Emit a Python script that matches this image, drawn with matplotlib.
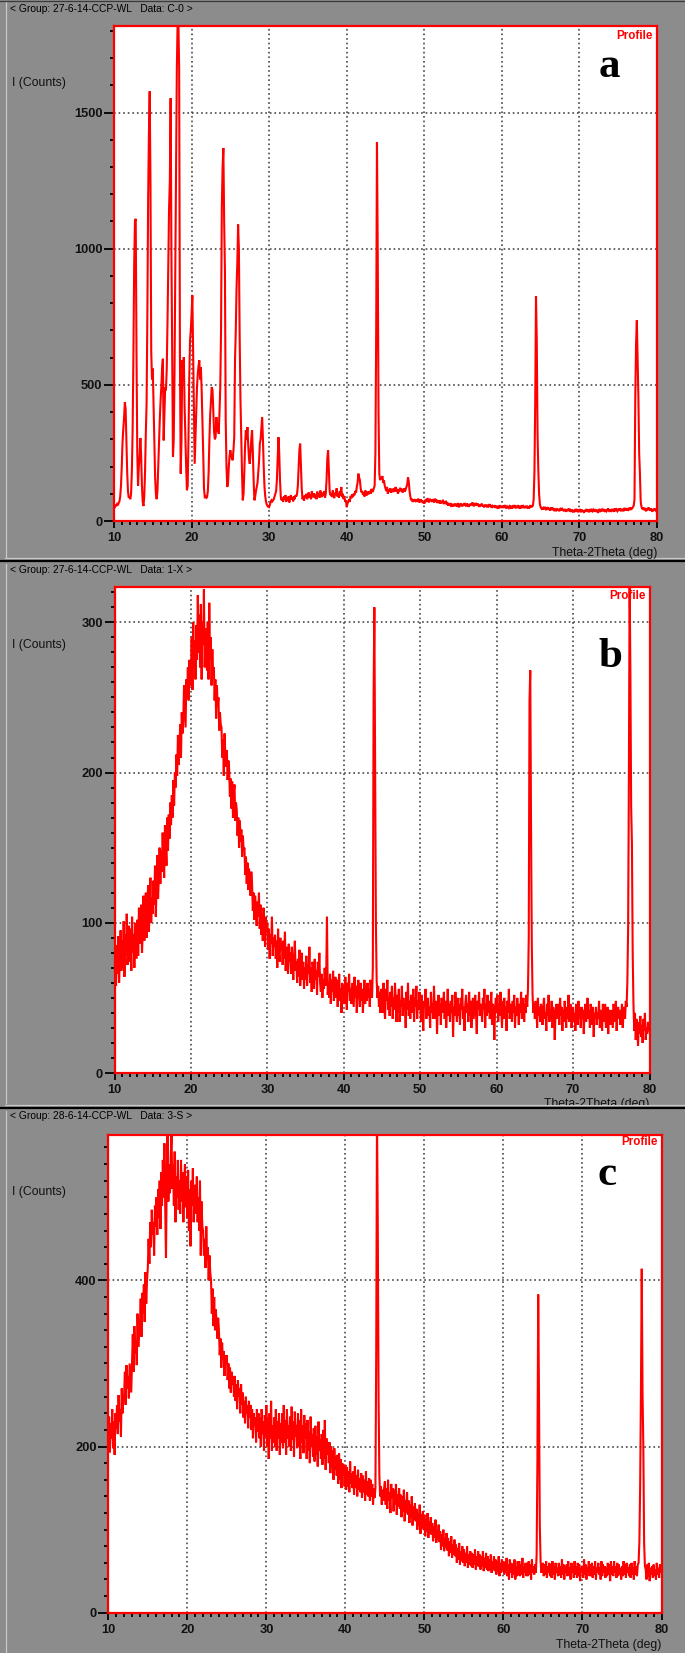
import numpy as np
import matplotlib
matplotlib.use("Agg")
import matplotlib.pyplot as plt
from matplotlib.ticker import MultipleLocator, FixedLocator
from matplotlib.lines import Line2D
from matplotlib.transforms import Bbox
from matplotlib.font_manager import FontProperties

# ---------------- data (scan 10-80 deg, step 0.1 deg) ----------------
theta_start = 10.0
theta_step = 0.1

counts_a = [
    52, 48, 60, 55, 62, 58, 66, 72, 90, 130,
    200, 290, 340, 380, 437, 410, 300, 180, 110, 85,
    90, 80, 100, 180, 330, 600, 940, 1100, 1110, 620,
    250, 130, 200, 240, 305, 240, 130, 70, 55, 90,
    180, 320, 430, 750, 1180, 1420, 1578, 1250, 620, 520,
    560, 420, 260, 160, 100, 80, 110, 200, 300, 370,
    440, 492, 560, 596, 296, 400, 492, 480, 560, 737,
    950, 1150, 1251, 1553, 1000, 614, 235, 300, 541, 900,
    1214, 1661, 1830, 1830, 1661, 602, 174, 300, 590, 560,
    602, 420, 308, 200, 113, 130, 300, 520, 663, 700,
    760, 829, 614, 400, 210, 300, 400, 492, 540, 570,
    590, 520, 565, 480, 370, 250, 120, 88, 90, 85,
    88, 110, 180, 300, 390, 440, 492, 480, 400, 330,
    300, 308, 382, 330, 357, 320, 400, 492, 700, 1153,
    1300, 1370, 1100, 920, 370, 200, 125, 140, 200, 240,
    260, 240, 230, 223, 260, 308, 590, 700, 859, 950,
    1089, 1000, 675, 450, 308, 180, 76, 100, 180, 280,
    333, 300, 345, 280, 230, 210, 250, 300, 333, 250,
    150, 76, 90, 110, 125, 140, 180, 220, 284, 300,
    340, 382, 300, 200, 125, 90, 70, 60, 55, 52,
    51, 60, 70, 76, 72, 76, 80, 90, 100, 110,
    150, 230, 308, 250, 150, 90, 76, 85, 70, 90,
    80, 95, 70, 85, 75, 90, 68, 82, 95, 78,
    88, 72, 90, 80, 95, 90, 100, 130, 200, 260,
    284, 200, 120, 80, 90, 75, 95, 85, 100, 80,
    90, 105, 85, 98, 80, 110, 92, 88, 102, 84,
    96, 80, 108, 90, 100, 86, 112, 94, 88, 104,
    92, 110, 86, 100, 150, 230, 260, 180, 110, 95,
    100, 88, 112, 92, 84, 104, 96, 120, 90, 100,
    86, 110, 94, 125, 88, 100, 80, 92, 70, 76,
    51, 64, 72, 80, 70, 92, 84, 98, 88, 100,
    95, 110, 104, 125, 140, 174, 160, 150, 120, 105,
    110, 96, 104, 90, 112, 100, 94, 108, 98, 104,
    110, 100, 118, 106, 112, 120, 130, 250, 700, 1392,
    982, 400, 174, 150, 160, 155, 165, 140, 150, 130,
    120, 110, 125, 100, 115, 108, 120, 104, 112, 118,
    106, 120, 110, 125, 108, 118, 100, 115, 112, 122,
    110, 118, 104, 112, 120, 108, 116, 125, 135, 160,
    145, 110, 90, 76, 82, 70, 78, 72, 80, 74,
    78, 70, 82, 74, 68, 80, 72, 76, 66, 74,
    64, 72, 80, 70, 84, 76, 68, 82, 74, 78,
    70, 80, 76, 68, 82, 72, 78, 66, 74, 70,
    76, 64, 72, 68, 78, 62, 70, 66, 74, 60,
    68, 56, 64, 58, 66, 52, 62, 58, 54, 64,
    56, 62, 52, 66, 58, 50, 64, 56, 60, 54,
    62, 56, 66, 58, 54, 64, 60, 52, 62, 56,
    64, 58, 68, 60, 54, 66, 58, 62, 56, 64,
    58, 52, 60, 56, 64, 54, 58, 50, 60, 56,
    54, 60, 50, 56, 62, 52, 58, 48, 56, 54,
    52, 58, 48, 56, 50, 54, 46, 58, 52, 50,
    51, 56, 48, 54, 58, 50, 46, 54, 52, 48,
    54, 50, 56, 46, 52, 58, 48, 54, 50, 56,
    48, 54, 50, 56, 46, 52, 58, 48, 54, 50,
    52, 48, 56, 50, 54, 46, 52, 58, 50, 54,
    56, 80, 180, 431, 825, 663, 320, 186, 100, 62,
    51, 46, 50, 42, 48, 44, 52, 40, 46, 48,
    42, 48, 38, 46, 44, 50, 40, 46, 36, 44,
    40, 46, 38, 44, 36, 42, 48, 38, 44, 40,
    36, 44, 40, 34, 42, 38, 46, 36, 40, 34,
    42, 36, 40, 32, 38, 44, 34, 40, 36, 42,
    33, 40, 36, 42, 34, 38, 30, 40, 36, 44,
    36, 42, 32, 38, 44, 34, 40, 36, 42, 38,
    40, 34, 42, 36, 30, 40, 44, 36, 38, 42,
    36, 44, 38, 34, 42, 36, 40, 46, 38, 34,
    42, 38, 44, 36, 40, 34, 46, 38, 42, 36,
    40, 46, 38, 42, 36, 44, 40, 36, 48, 42,
    44, 38, 46, 42, 48, 40, 50, 44, 46, 52,
    56, 80, 455, 650, 737, 600, 455, 250, 174, 70,
    52, 44, 50, 40, 48, 42, 36, 46, 40, 50,
    44, 38, 46, 40, 34, 44, 38, 46, 40, 36,
    42,
]

counts_b = [
    62, 80, 58, 85, 66, 91, 60, 76, 95, 68,
    88, 70, 101, 64, 92, 78, 106, 72, 84, 98,
    74, 96, 68, 104, 80, 92, 70, 100, 88, 76,
    102, 78, 110, 86, 97, 112, 80, 95, 118, 88,
    96, 120, 90, 112, 125, 94, 108, 130, 100, 117,
    106, 128, 112, 138, 104, 122, 145, 116, 130, 150,
    126, 148, 134, 160, 142, 130, 165, 150, 138, 170,
    148, 172, 156, 180, 165, 185, 170, 195, 178, 200,
    190, 212, 198, 225, 205, 218, 232, 210, 240, 226,
    236, 258, 244, 230, 262, 250, 270, 248, 275, 258,
    262, 290, 255, 300, 270, 288, 262, 298, 275, 318,
    280, 305, 270, 312, 262, 300, 285, 322, 270, 296,
    292, 268, 300, 262, 313, 275, 290, 258, 282, 265,
    270, 248, 262, 236, 258, 244, 250, 228, 240, 232,
    230, 210, 222, 198, 226, 212, 204, 215, 195, 208,
    202, 184, 196, 176, 194, 170, 186, 192, 168, 180,
    175, 158, 170, 150, 168, 154, 162, 144, 158, 148,
    150, 132, 144, 126, 140, 122, 136, 128, 118, 134,
    126, 108, 120, 102, 118, 110, 98, 114, 104, 120,
    96, 112, 92, 106, 88, 110, 100, 84, 104, 94,
    100, 82, 96, 76, 92, 86, 104, 78, 90, 84,
    92, 76, 88, 70, 96, 80, 74, 90, 82, 86,
    72, 88, 76, 94, 68, 84, 78, 66, 86, 74,
    80, 66, 84, 70, 62, 78, 88, 68, 74, 60,
    76, 64, 82, 58, 72, 80, 62, 74, 56, 70,
    62, 78, 58, 72, 66, 84, 60, 70, 54, 74,
    70, 56, 76, 62, 68, 52, 74, 64, 80, 60,
    54, 66, 50, 62, 56, 70, 58, 64, 104, 52,
    60, 50, 66, 46, 62, 54, 68, 48, 58, 64,
    50, 62, 44, 58, 66, 48, 56, 40, 60, 52,
    58, 46, 64, 50, 42, 60, 54, 66, 48, 56,
    46, 60, 52, 44, 64, 50, 58, 40, 56, 62,
    54, 44, 60, 48, 56, 40, 52, 62, 46, 58,
    48, 60, 50, 56, 44, 62, 54, 50, 70, 252,
    310, 206, 100, 62, 50, 58, 44, 54, 40, 56,
    52, 40, 60, 44, 36, 56, 48, 62, 42, 50,
    38, 54, 44, 58, 36, 50, 42, 60, 46, 34,
    52, 40, 56, 34, 48, 44, 58, 38, 50, 42,
    46, 30, 54, 42, 60, 38, 48, 36, 52, 44,
    40, 56, 34, 50, 44, 58, 36, 48, 42, 54,
    46, 34, 52, 40, 28, 48, 44, 56, 36, 42,
    50, 38, 44, 30, 54, 40, 46, 36, 58, 42,
    36, 48, 26, 44, 52, 38, 46, 32, 50, 40,
    44, 54, 36, 48, 30, 42, 56, 38, 46, 34,
    48, 40, 52, 24, 44, 38, 54, 42, 34, 50,
    38, 46, 32, 50, 42, 56, 36, 44, 28, 46,
    52, 40, 46, 34, 54, 38, 48, 30, 44, 50,
    36, 44, 52, 40, 26, 48, 42, 54, 38, 46,
    44, 34, 50, 42, 56, 30, 46, 38, 52, 40,
    48, 36, 42, 54, 32, 46, 40, 22, 44, 50,
    40, 52, 34, 46, 38, 54, 42, 30, 48, 36,
    50, 38, 44, 28, 48, 40, 56, 36, 42, 46,
    34, 48, 40, 52, 30, 44, 38, 50, 42, 32,
    46, 40, 54, 36, 42, 50, 34, 46, 40, 52,
    44, 56, 90, 248, 268, 164, 85, 52, 40, 46,
    36, 48, 42, 30, 50, 38, 44, 34, 46, 40,
    32, 44, 50, 36, 40, 28, 46, 38, 52, 34,
    42, 36, 48, 30, 44, 40, 22, 38, 46, 42,
    36, 46, 32, 50, 38, 44, 28, 42, 34, 48,
    40, 30, 44, 36, 52, 34, 40, 46, 30, 38,
    44, 34, 40, 28, 46, 38, 32, 48, 36, 42,
    30, 44, 36, 42, 26, 40, 46, 34, 38, 50,
    36, 42, 30, 46, 38, 32, 44, 24, 40, 36,
    44, 32, 40, 36, 48, 30, 42, 38, 28, 46,
    34, 40, 46, 30, 36, 44, 26, 42, 38, 32,
    42, 36, 30, 46, 38, 34, 48, 28, 40, 44,
    36, 42, 32, 38, 46, 30, 40, 44, 36, 48,
    44, 60, 95, 193, 330, 266, 177, 153, 80, 46,
    28, 40, 22, 36, 30, 18, 34, 26, 38, 24,
    32, 20, 36, 28, 40, 22, 30, 26, 34, 30,
    28,
]

counts_c = [
    205, 236, 193, 228, 210, 245, 198, 230, 190, 240,
    222, 250, 215, 262, 230, 245, 212, 270, 240, 258,
    262, 290, 250, 298, 270, 285, 258, 300, 282, 265,
    300, 335, 290, 345, 312, 328, 298, 360, 320, 340,
    345, 378, 332, 385, 360, 395, 350, 410, 372, 400,
    415, 450, 420, 470, 440, 485, 455, 470, 430, 490,
    465, 500, 455, 510, 475, 520, 462, 530, 490, 545,
    500, 565, 488, 427, 530, 575, 495, 540, 505, 550,
    575, 510, 540, 490, 555, 470, 525, 500, 545, 485,
    520, 480, 545, 495, 530, 470, 510, 540, 488, 525,
    475, 533, 460, 510, 441, 520, 490, 535, 470, 505,
    515, 480, 525, 470, 500, 460, 520, 430, 495, 465,
    460, 430, 450, 415, 465, 425, 440, 400, 430, 410,
    400, 360, 390, 345, 380, 340, 365, 350, 330, 355,
    340, 310, 330, 295, 325, 305, 315, 285, 310, 300,
    310, 280, 300, 270, 295, 265, 290, 275, 285, 260,
    285, 255, 275, 245, 280, 260, 270, 240, 275, 250,
    265, 235, 255, 228, 260, 240, 250, 222, 255, 235,
    250, 220, 245, 210, 240, 225, 235, 205, 245, 218,
    240, 210, 235, 200, 245, 215, 230, 195, 238, 212,
    250, 200, 235, 185, 240, 210, 255, 195, 225, 205,
    235, 200, 245, 195, 230, 210, 240, 190, 228, 205,
    240, 198, 250, 205, 232, 190, 245, 210, 225, 200,
    236, 195, 248, 208, 230, 188, 242, 212, 226, 198,
    240, 200, 232, 185, 245, 205, 225, 192, 238, 210,
    228, 185, 232, 195, 218, 180, 236, 200, 215, 188,
    222, 182, 225, 190, 212, 176, 230, 195, 208, 185,
    215, 178, 220, 185, 232, 172, 210, 190, 205, 180,
    205, 168, 200, 175, 195, 160, 198, 172, 188, 165,
    190, 155, 192, 160, 185, 150, 180, 165, 178, 152,
    178, 148, 175, 152, 170, 145, 182, 155, 168, 150,
    170, 142, 176, 150, 165, 140, 172, 148, 162, 145,
    168, 138, 165, 145, 160, 135, 170, 142, 158, 140,
    162, 135, 160, 140, 155, 130, 150, 138, 150, 309,
    600, 465, 257, 165, 140, 152, 130, 148, 135, 150,
    158, 130, 150, 125, 160, 135, 145, 120, 155, 138,
    150, 122, 148, 130, 155, 118, 142, 128, 150, 125,
    142, 115, 140, 122, 148, 110, 135, 120, 145, 118,
    135, 108, 130, 115, 140, 105, 128, 112, 132, 110,
    125, 100, 120, 105, 130, 95, 118, 102, 122, 100,
    118, 92, 112, 98, 120, 90, 110, 96, 115, 94,
    108, 86, 104, 90, 112, 84, 100, 88, 106, 85,
    98, 76, 94, 80, 100, 74, 90, 78, 96, 75,
    90, 68, 86, 72, 92, 66, 82, 70, 88, 68,
    82, 60, 78, 64, 84, 58, 74, 62, 80, 60,
    76, 56, 72, 60, 80, 54, 70, 58, 74, 56,
    72, 54, 70, 58, 76, 52, 68, 56, 74, 55,
    70, 52, 68, 56, 74, 50, 66, 54, 72, 52,
    68, 50, 64, 52, 70, 48, 62, 52, 68, 50,
    64, 46, 62, 50, 68, 44, 60, 48, 64, 50,
    62, 46, 60, 48, 66, 44, 58, 40, 64, 48,
    60, 42, 58, 46, 64, 40, 56, 44, 62, 45,
    62, 44, 58, 46, 66, 42, 56, 48, 60, 44,
    60, 44, 62, 46, 58, 40, 64, 48, 56, 46,
    58, 48, 70, 185, 383, 260, 105, 62, 48, 56,
    60, 44, 58, 46, 62, 42, 56, 48, 60, 44,
    58, 42, 62, 46, 56, 40, 60, 48, 54, 44,
    60, 45, 56, 42, 64, 46, 58, 40, 55, 48,
    58, 44, 62, 46, 54, 40, 60, 48, 56, 42,
    62, 46, 56, 42, 60, 44, 58, 38, 54, 48,
    56, 42, 64, 46, 58, 40, 55, 48, 62, 44,
    58, 44, 60, 42, 56, 46, 62, 40, 54, 48,
    60, 46, 55, 40, 62, 44, 58, 48, 56, 42,
    54, 44, 60, 46, 58, 38, 62, 46, 56, 44,
    62, 48, 56, 42, 60, 44, 58, 46, 54, 40,
    56, 44, 62, 46, 58, 42, 60, 48, 55, 44,
    58, 42, 60, 46, 54, 40, 62, 46, 56, 44,
    58, 60, 85, 153, 269, 414, 265, 201, 85, 56,
    52, 40, 58, 44, 60, 38, 54, 46, 56, 42,
    58, 44, 52, 40, 60, 46, 54, 42, 58, 48,
    50,
]

x_ticks = [10, 20, 30, 40, 50, 60, 70, 80]
y_ticks_a = [0, 500, 1000, 1500]
y_ticks_b = [0, 100, 200, 300]
y_ticks_c = [0, 200, 400]
group_labels = [
    "< Group: 27-6-14-CCP-WL   Data: C-0 >",
    "< Group: 27-6-14-CCP-WL   Data: 1-X >",
    "< Group: 28-6-14-CCP-WL   Data: 3-S >",
]
panel_letters = ["a", "b", "c"]

# ---------------- layout (pixels) ----------------
W, H = 685, 1653
fig = plt.figure(figsize=(W / 100, H / 100), dpi=100)
GRAY = "#8c8c8c"
LIGHT = "#c9c9c9"
RED = "#ff0000"
fig.patch.set_facecolor(GRAY)

NARROW = ["Liberation Sans Narrow", "Liberation Sans", "DejaVu Sans"]
SERIF = ["Liberation Serif", "DejaVu Serif"]


def fx(x):
    return x / W


def fy(y):
    return 1 - y / H


def hline(y, x0, x1, color, lw):
    fig.add_artist(Line2D([fx(x0), fx(x1)], [fy(y), fy(y)],
                          transform=fig.transFigure, color=color, lw=lw))


def vline(x, y0, y1, color, lw):
    fig.add_artist(Line2D([fx(x), fx(x)], [fy(y0), fy(y1)],
                          transform=fig.transFigure, color=color, lw=lw))


panels = [
    dict(data=counts_a, yt=y_ticks_a, box=(114, 26, 657, 521), ymax=1818,
         yminor=100, gy=8.5, ly=83, prof_y=36, let_xy=(609, 77),
         xl_y=553, top=0, bottom=558, lw=1.5),
    dict(data=counts_b, yt=y_ticks_b, box=(114.5, 587, 649.5, 1073), ymax=323.5,
         yminor=10, gy=570, ly=645, prof_y=596, let_xy=(610, 667),
         xl_y=1104, top=562, bottom=1104, lw=1.5),
    dict(data=counts_c, yt=y_ticks_c, box=(108.3, 1135, 661.5, 1612.7), ymax=575,
         yminor=20, gy=1116, ly=1192, prof_y=1142, let_xy=(607.5, 1185),
         xl_y=1645, top=1109, bottom=1653, lw=1.5),
]

tick_font = FontProperties(family=NARROW, weight="bold", size=9.3)

for i, p in enumerate(panels):
    l, t, r, b = p["box"]
    ax = fig.add_axes([fx(l), fy(b), fx(r) - fx(l), (b - t) / H])
    ax.set_facecolor("white")
    y = np.asarray(p["data"], dtype=float)
    x = theta_start + theta_step * np.arange(len(y))
    ax.plot(x, y, color=RED, lw=p["lw"], zorder=3, solid_joinstyle="miter")
    ax.set_xlim(10, 80)
    ax.set_ylim(0, p["ymax"])
    ax.xaxis.set_major_locator(FixedLocator(x_ticks))
    ax.xaxis.set_minor_locator(MultipleLocator(1))
    ax.yaxis.set_major_locator(FixedLocator(p["yt"]))
    ax.yaxis.set_minor_locator(MultipleLocator(p["yminor"]))
    ax.set_xticklabels([str(v) for v in x_ticks])
    ax.set_yticklabels([str(v) for v in p["yt"]])
    for lab in ax.get_xticklabels() + ax.get_yticklabels():
        lab.set_fontproperties(tick_font)
        lab.set_color("#111111")
    ax.tick_params(axis="y", which="major", direction="out", length=7.2,
                   width=1.3, color="black", pad=1.2)
    ax.tick_params(axis="y", which="minor", direction="out", length=3.0,
                   width=1.3, color="black")
    ax.tick_params(axis="x", which="major", direction="out", length=5,
                   width=1.3, color="black", pad=3.0)
    ax.tick_params(axis="x", which="minor", direction="out", length=2.8,
                   width=1.3, color="black")
    for s in ax.spines.values():
        s.set_color(RED)
        s.set_linewidth(1.6)
        s.set_zorder(4)
    ax.grid(True, which="major", color="#3a3a3a", lw=1.1,
            linestyle=(0, (1.1, 1.9)), zorder=1)
    ax.set_axisbelow(True)

    # texts
    fig.text(fx(10), fy(p["gy"]), group_labels[i], ha="left", va="center",
             fontsize=7.4, family=NARROW, color="black")
    fig.text(fx(12), fy(p["ly"]), "I (Counts)", ha="left", va="center",
             fontsize=8.8, family=NARROW, color="#111111")
    fig.text(fx(r - 4), fy(p["prof_y"]), "Profile", ha="right", va="center",
             fontsize=8.4, family=NARROW, weight="bold", color=RED)
    lx, lyb = p["let_xy"]
    fig.text(fx(lx), fy(lyb), panel_letters[i], ha="center", va="baseline",
             fontsize=31, family=SERIF, weight="bold", color="black")
    xl = fig.text(fx(r), fy(p["xl_y"]), "Theta-2Theta (deg)", ha="right",
                  va="center", fontsize=8.8, family=NARROW, color="#111111")
    if i == 1:
        xl.set_clip_box(Bbox([[0, H - 1104.5], [W, H]]))
        xl.set_clip_on(True)

    # panel frame lines
    vline(5.5, p["top"] + 2, p["bottom"] - 1, LIGHT, 0.9)

# separators and edges
hline(0.5, 0, W, "#3a3a3a", 0.9)
hline(557.5, 5, W, LIGHT, 0.9)
hline(560.8, 0, W, "black", 1.6)
hline(1104.5, 5, W, LIGHT, 0.9)
hline(1107.5, 0, W, "black", 1.6)

fig.savefig("out.png", dpi=100, facecolor=GRAY)
